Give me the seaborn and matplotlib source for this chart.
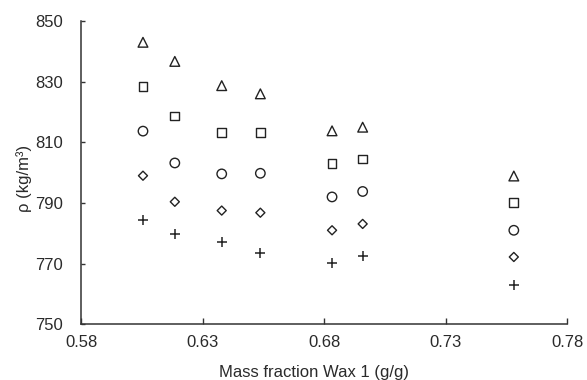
import pandas as pd
import seaborn as sns
import matplotlib
matplotlib.use("Agg")
import matplotlib.pyplot as plt

# x positions (mass fraction of wax 1)
mass_frac = [0.6055, 0.6186, 0.6379, 0.6538, 0.6833, 0.6959, 0.7581]

# density series, one per marker, top to bottom
rho_tri = [843.0, 836.7, 828.7, 826.0, 813.8, 815.0, 798.9]
rho_sq = [828.3, 818.7, 813.2, 813.2, 803.1, 804.5, 790.1]
rho_circ = [813.7, 803.2, 799.6, 799.8, 792.0, 793.8, 781.0]
rho_dia = [799.0, 790.4, 787.5, 786.8, 781.0, 783.1, 772.2]
rho_plus = [784.3, 779.9, 777.0, 773.6, 770.2, 772.6, 763.0]

x_ticks = [0.58, 0.63, 0.68, 0.73, 0.78]
y_ticks = [750, 770, 790, 810, 830, 850]

sns.set_theme(style="ticks")
plt.rcParams['font.family'] = ['Liberation Sans', 'DejaVu Sans']

fig = plt.figure(figsize=(5.87, 3.80), dpi=100)
ax = fig.add_axes([0.138, 0.1466, 0.828, 0.798])

ink = "#222222"
txt = "#2a2a2a"
series = [(rho_tri, "^", 7.0), (rho_sq, "s", 6.3), (rho_circ, "o", 6.8), (rho_dia, "D", 4.6)]
for vals, m, ms in series:
    df = pd.DataFrame({"x": mass_frac, "y": vals})
    sns.scatterplot(data=df, x="x", y="y", marker=m, s=ms ** 2, facecolor="none",
                    edgecolor=ink, linewidth=1.0, ax=ax)

df = pd.DataFrame({"x": mass_frac, "y": rho_plus})
sns.scatterplot(data=df, x="x", y="y", marker="+", s=60, color=ink, linewidth=1.1, ax=ax)

ax.set_xlim(0.58, 0.78)
ax.set_ylim(750, 850)
ax.set_xticks(x_ticks)
ax.set_xticklabels([f"{v:.2f}" for v in x_ticks])
ax.set_yticks(y_ticks)
ax.set_yticklabels([str(v) for v in y_ticks])

ax.tick_params(axis="x", direction="in", length=4, width=1.0, color="#333333",
               labelsize=12, labelcolor=txt, pad=8)
ax.tick_params(axis="y", direction="in", length=3, width=1.0, color="#333333",
               labelsize=12, labelcolor=txt, pad=13)

for side in ["top", "right"]:
    ax.spines[side].set_visible(False)
for side in ["left", "bottom"]:
    ax.spines[side].set_color("#333333")
    ax.spines[side].set_linewidth(1.1)

ax.set_xlabel("Mass fraction Wax 1 (g/g)", fontsize=12, color=txt)
ax.set_ylabel("ρ (kg/m³)", fontsize=12, color=txt)
ax.xaxis.set_label_coords(0.48, -0.135)
ax.yaxis.set_label_coords(-0.10, 0.48)

fig.savefig("out.png", dpi=100)
